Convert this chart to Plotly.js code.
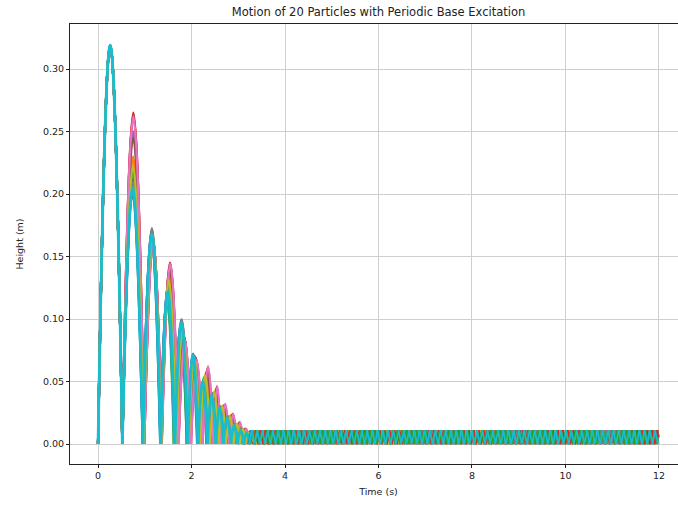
<!DOCTYPE html>
<html>
<head>
<meta charset="utf-8">
<script src="https://cdn.plot.ly/plotly-3.0.1.min.js"></script>
<style>
html,body{margin:0;padding:0;overflow:hidden;background:#fff;}
#chart{width:700px;height:506px;}
</style>
</head>
<body>
<div id="chart"></div>
<script>
// ---- data ----
const particleNames = ["Particle 1","Particle 2","Particle 3","Particle 4","Particle 5","Particle 6","Particle 7","Particle 8","Particle 9","Particle 10",
  "Particle 11","Particle 12","Particle 13","Particle 14","Particle 15","Particle 16","Particle 17","Particle 18","Particle 19","Particle 20"];
const particleColors = ["#1f77b4","#ff7f0e","#2ca02c","#d62728","#9467bd","#8c564b","#e377c2","#7f7f7f","#bcbd22","#17becf"];

// times (s) at which each particle touches the base during the bouncing phase
const contactTimes = [
  [0,0.52,0.955,1.33,1.63,1.90,2.12,2.32,2.50,2.66,2.82,2.96,3.10,3.22],
  [0,0.52,0.975,1.35,1.68,1.94,2.18,2.40,2.58,2.74,2.90,3.04,3.16,3.28],
  [0,0.52,0.97,1.34,1.62,1.90,2.16,2.38,2.56,2.72,2.88,3.02,3.14,3.26],
  [0,0.52,0.99,1.36,1.72,1.98,2.22,2.46,2.62,2.80,2.96,3.10,3.22,3.32],
  [0,0.52,0.985,1.355,1.70,1.96,2.20,2.44,2.62,2.78,2.94,3.08,3.20,3.30],
  [0,0.52,0.965,1.345,1.66,1.93,2.16,2.37,2.55,2.71,2.86,3.00,3.13,3.25],
  [0,0.52,0.99,1.365,1.72,1.99,2.24,2.47,2.63,2.81,2.97,3.11,3.23,3.33],
  [0,0.52,0.96,1.34,1.64,1.92,2.14,2.34,2.52,2.68,2.84,2.98,3.12,3.24],
  [0,0.52,0.975,1.35,1.67,1.93,2.17,2.39,2.57,2.73,2.89,3.03,3.15,3.27],
  [0,0.52,0.955,1.33,1.63,1.91,2.13,2.33,2.51,2.67,2.83,2.97,3.11,3.23],
  [0,0.52,0.96,1.335,1.645,1.925,2.145,2.35,2.53,2.69,2.85,2.99,3.12,3.24],
  [0,0.52,0.98,1.355,1.69,1.95,2.19,2.42,2.60,2.76,2.92,3.06,3.18,3.29],
  [0,0.52,0.97,1.345,1.65,1.91,2.15,2.37,2.55,2.71,2.87,3.01,3.14,3.26],
  [0,0.52,0.99,1.36,1.72,1.985,2.23,2.46,2.62,2.80,2.96,3.10,3.22,3.32],
  [0,0.52,0.96,1.34,1.64,1.92,2.14,2.34,2.52,2.68,2.84,2.98,3.12,3.24],
  [0,0.52,0.985,1.36,1.71,1.97,2.21,2.45,2.62,2.79,2.95,3.09,3.21,3.31],
  [0,0.52,0.99,1.365,1.725,1.99,2.235,2.47,2.63,2.81,2.97,3.11,3.23,3.33],
  [0,0.52,0.965,1.345,1.655,1.93,2.15,2.35,2.53,2.69,2.85,2.99,3.13,3.25],
  [0,0.52,0.975,1.35,1.675,1.94,2.18,2.40,2.58,2.74,2.90,3.04,3.16,3.28],
  [0,0.52,0.96,1.34,1.645,1.92,2.14,2.34,2.52,2.68,2.84,2.98,3.12,3.24]
];
// apex height (m) of each flight between consecutive contacts
const apexHeights = [
  [0.319,0.200,0.165,0.118,0.094,0.066,0.048,0.037,0.028,0.020,0.015,0.011,0.009],
  [0.319,0.228,0.168,0.132,0.090,0.068,0.055,0.042,0.030,0.022,0.016,0.012,0.009],
  [0.319,0.220,0.160,0.115,0.092,0.070,0.052,0.040,0.029,0.021,0.015,0.011,0.009],
  [0.319,0.262,0.163,0.143,0.085,0.068,0.060,0.045,0.031,0.024,0.017,0.012,0.010],
  [0.319,0.250,0.165,0.138,0.088,0.070,0.058,0.044,0.030,0.023,0.016,0.012,0.010],
  [0.319,0.212,0.170,0.128,0.098,0.071,0.052,0.041,0.030,0.022,0.016,0.012,0.009],
  [0.319,0.264,0.160,0.145,0.082,0.066,0.062,0.046,0.032,0.024,0.017,0.012,0.010],
  [0.319,0.207,0.1725,0.125,0.0997,0.072,0.050,0.040,0.030,0.022,0.016,0.012,0.009],
  [0.319,0.224,0.166,0.130,0.092,0.069,0.054,0.041,0.030,0.022,0.016,0.011,0.009],
  [0.319,0.203,0.166,0.120,0.096,0.070,0.049,0.039,0.029,0.021,0.015,0.011,0.009],
  [0.319,0.205,0.170,0.124,0.098,0.071,0.051,0.040,0.030,0.022,0.016,0.012,0.009],
  [0.319,0.230,0.166,0.136,0.088,0.069,0.057,0.043,0.031,0.023,0.016,0.012,0.010],
  [0.319,0.218,0.162,0.120,0.094,0.068,0.053,0.040,0.029,0.021,0.015,0.011,0.009],
  [0.319,0.265,0.162,0.145,0.084,0.067,0.061,0.046,0.031,0.024,0.017,0.012,0.010],
  [0.319,0.206,0.171,0.126,0.098,0.072,0.050,0.040,0.030,0.022,0.016,0.012,0.009],
  [0.319,0.245,0.164,0.140,0.086,0.069,0.059,0.045,0.031,0.023,0.017,0.012,0.010],
  [0.319,0.262,0.161,0.144,0.083,0.067,0.062,0.046,0.032,0.024,0.017,0.012,0.010],
  [0.319,0.210,0.1725,0.127,0.0997,0.072,0.051,0.040,0.030,0.022,0.016,0.012,0.009],
  [0.319,0.222,0.167,0.131,0.091,0.069,0.055,0.042,0.030,0.022,0.016,0.012,0.009],
  [0.319,0.205,0.168,0.122,0.097,0.071,0.050,0.039,0.029,0.021,0.015,0.011,0.009]
];
// steady state: particle rides the vibrating base; one cycle of the band (m) and each particle's cycle period (s)
const bandCycle = [0.000,0.0055,0.0110,0.0055];
const bandPeriods = [0.100,0.104,0.100,0.106,0.098,0.103,0.097,0.105,0.102,0.112,
                     0.099,0.101,0.100,0.106,0.104,0.098,0.102,0.107,0.101,0.112];
// order (particle numbers) in which the steady bands are layered, bottom to top
const bandLayerOrder = [1,2,5,6,7,9,11,12,15,16,17,19,8,18,4,14,3,10,13,20];
const endTime = 12;

// ---- build traces ----
const nP = particleNames.length;
const arcTraces = [], bandTraces = {};
for (let p = 0; p < nP; p++) {
  const c = contactTimes[p], h = apexHeights[p];
  const ax = [], ay = [];
  for (let k = 0; k < h.length; k++) {
    ax.push(c[k], (c[k] + c[k+1]) / 2, c[k+1], null);
    ay.push(0, h[k], 0, null);
  }
  const col = particleColors[p % 10];
  arcTraces.push({
    x: ax, y: ay, type: 'scatter', mode: 'lines', name: particleNames[p],
    line: {color: col, width: (p === nP - 1) ? 2.8 : 2.3, shape: 'spline', smoothing: 1.3, simplify: false},
    connectgaps: false, showlegend: false, hoverinfo: 'skip'
  });
  const bx = [], by = [];
  const step = bandPeriods[p] / bandCycle.length;
  let t = c[c.length - 1], i = 0;
  while (t <= endTime + 1e-9) {
    bx.push(t); by.push(bandCycle[i % bandCycle.length]);
    t += step; i++;
  }
  bandTraces[p + 1] = {
    x: bx, y: by, type: 'scatter', mode: 'lines', name: particleNames[p],
    line: {color: col, width: 1.5, simplify: false}, showlegend: false, hoverinfo: 'skip'
  };
}
const traces = arcTraces.concat(bandLayerOrder.map(n => bandTraces[n]));

const axisCommon = {
  showline: true, linecolor: '#222', linewidth: 1, mirror: true,
  ticks: 'outside', ticklen: 3, tickwidth: 1, tickcolor: '#222',
  showgrid: true, gridcolor: '#cfcfcf', gridwidth: 1, zeroline: false,
  tickfont: {family: 'DejaVu Sans', size: 9.5, color: '#222'}
};

const layout = {
  width: 700, height: 506,
  margin: {l: 70, r: 13, t: 24, b: 42},
  paper_bgcolor: '#fff', plot_bgcolor: '#fff',
  font: {family: 'DejaVu Sans', color: '#222'},
  title: {text: 'Motion of 20 Particles with Periodic Base Excitation',
          font: {family: 'DejaVu Sans', size: 11.5, color: '#222'},
          x: 0.5, xref: 'paper', xanchor: 'center', y: 0.976, yref: 'container', yanchor: 'middle'},
  xaxis: Object.assign({}, axisCommon, {
    range: [-0.6, 12.6], tickvals: [0,2,4,6,8,10,12], ticktext: ['0','2','4','6','8','10','12'],
    title: {text: 'Time (s)', font: {family: 'DejaVu Sans', size: 9.5, color: '#222'}, standoff: 7}
  }),
  yaxis: Object.assign({}, axisCommon, {
    range: [-0.016, 0.336], tickvals: [0,0.05,0.10,0.15,0.20,0.25,0.30],
    ticktext: ['0.00','0.05','0.10','0.15','0.20','0.25','0.30'],
    title: {text: 'Height (m)', font: {family: 'DejaVu Sans', size: 9.5, color: '#222'}, standoff: 17}
  }),
  showlegend: false
};

Plotly.newPlot('chart', traces, layout, {displayModeBar: false, staticPlot: true});
</script>
</body>
</html>
